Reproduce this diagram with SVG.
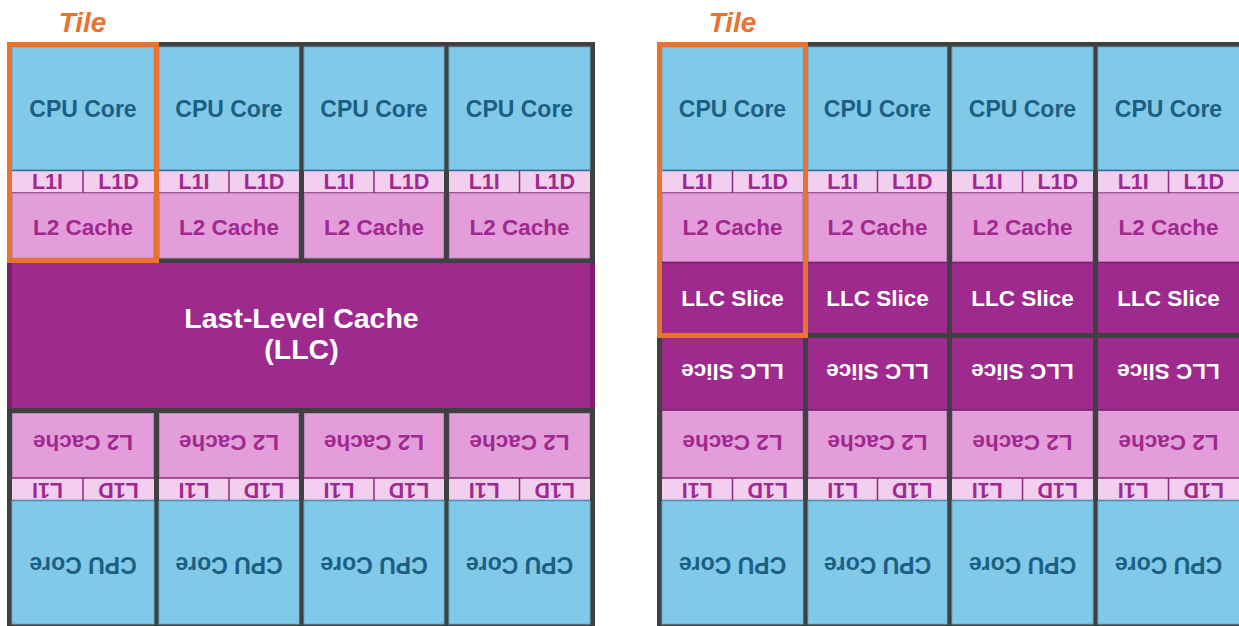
<svg xmlns="http://www.w3.org/2000/svg" width="1239" height="626" viewBox="0 0 1239 626">
<style>
.frame{fill:#404040}
.cpu{fill:#80C9E9;stroke:#6BA8C6;stroke-width:1}
.l1{fill:#F2CFEE}
.l2{fill:#E39DDB;stroke:#B98AB3;stroke-width:1}
.llc{fill:#9E2A8E}
.llcedge{fill:#7A1F6D}
.tl{stroke:#2E7396;stroke-width:1.5}
.pl{stroke:#8B2A7F;stroke-width:1.5}
.t{font-family:"Liberation Sans",Arial,sans-serif;font-weight:bold;text-anchor:middle}
.tc{fill:#1C5F82;font-size:23px}
.t1{fill:#A0298E;font-size:21.5px}
.t2{fill:#A0298E;font-size:22.5px}
.tw{fill:#FFFFFF;font-size:22.5px}
.tbig{fill:#FFFFFF;font-size:28.5px}
.tile{fill:none;stroke:#E8732F;stroke-width:5}
.tilelbl{fill:#E8732F;font-size:28px;font-style:italic}
</style>
<rect width="1239" height="626" fill="#FFFFFF"/>

<!-- ================= LEFT DIAGRAM ================= -->
<g id="left-frame"><rect class="frame" x="7" y="42" width="588" height="590"/></g>

<g id="L-top-1">
<rect class="cpu" x="12" y="47" width="142" height="123"/>
<rect class="l1" x="12" y="170" width="142" height="23"/>
<line class="tl" x1="12" y1="170.5" x2="154" y2="170.5"/>
<line class="pl" x1="12" y1="193" x2="154" y2="193"/>
<line class="pl" x1="83" y1="170" x2="83" y2="193"/>
<rect class="l2" x="12.5" y="193.5" width="141" height="64.5"/>
<text class="t tc" x="83" y="117">CPU Core</text>
<text class="t t1" x="47.5" y="189.3">L1I</text>
<text class="t t1" x="118.5" y="189.3">L1D</text>
<text class="t t2" x="83" y="235">L2 Cache</text>
</g>
<g id="L-top-2">
<rect class="cpu" x="159" y="47" width="140" height="123"/>
<rect class="l1" x="159" y="170" width="140" height="23"/>
<line class="tl" x1="159" y1="170.5" x2="299" y2="170.5"/>
<line class="pl" x1="159" y1="193" x2="299" y2="193"/>
<line class="pl" x1="229" y1="170" x2="229" y2="193"/>
<rect class="l2" x="159.5" y="193.5" width="139" height="64.5"/>
<text class="t tc" x="229" y="117">CPU Core</text>
<text class="t t1" x="194" y="189.3">L1I</text>
<text class="t t1" x="264" y="189.3">L1D</text>
<text class="t t2" x="229" y="235">L2 Cache</text>
</g>
<g id="L-top-3">
<rect class="cpu" x="304" y="47" width="140" height="123"/>
<rect class="l1" x="304" y="170" width="140" height="23"/>
<line class="tl" x1="304" y1="170.5" x2="444" y2="170.5"/>
<line class="pl" x1="304" y1="193" x2="444" y2="193"/>
<line class="pl" x1="374" y1="170" x2="374" y2="193"/>
<rect class="l2" x="304.5" y="193.5" width="139" height="64.5"/>
<text class="t tc" x="374" y="117">CPU Core</text>
<text class="t t1" x="339" y="189.3">L1I</text>
<text class="t t1" x="409" y="189.3">L1D</text>
<text class="t t2" x="374" y="235">L2 Cache</text>
</g>
<g id="L-top-4">
<rect class="cpu" x="449" y="47" width="141" height="123"/>
<rect class="l1" x="449" y="170" width="141" height="23"/>
<line class="tl" x1="449" y1="170.5" x2="590" y2="170.5"/>
<line class="pl" x1="449" y1="193" x2="590" y2="193"/>
<line class="pl" x1="519.5" y1="170" x2="519.5" y2="193"/>
<rect class="l2" x="449.5" y="193.5" width="140" height="64.5"/>
<text class="t tc" x="519.5" y="117">CPU Core</text>
<text class="t t1" x="484.25" y="189.3">L1I</text>
<text class="t t1" x="554.75" y="189.3">L1D</text>
<text class="t t2" x="519.5" y="235">L2 Cache</text>
</g>

<g id="LLC">
<rect class="llcedge" x="7" y="263" width="588" height="145"/>
<rect class="llc" x="12" y="263" width="578" height="145"/>
<text class="t tbig" x="301.5" y="328">Last-Level Cache</text>
<text class="t tbig" x="301.5" y="359">(LLC)</text>
</g>

<g id="L-bot-1">
<rect class="l2" x="12.5" y="413.5" width="141" height="64.5"/>
<rect class="l1" x="12" y="478" width="142" height="23"/>
<line class="pl" x1="12" y1="478" x2="154" y2="478"/>
<line class="tl" x1="12" y1="500.5" x2="154" y2="500.5"/>
<line class="pl" x1="83" y1="478" x2="83" y2="501"/>
<rect class="cpu" x="12" y="501" width="142" height="123"/>
<text class="t t2" x="83" y="451.3" transform="rotate(180 83 443.3)">L2 Cache</text>
<text class="t t1" x="47.5" y="498.2" transform="rotate(180 47.5 490.5)">L1I</text>
<text class="t t1" x="118.5" y="498.2" transform="rotate(180 118.5 490.5)">L1D</text>
<text class="t tc" x="83" y="573.3" transform="rotate(180 83 565)">CPU Core</text>
</g>
<g id="L-bot-2">
<rect class="l2" x="159.5" y="413.5" width="139" height="64.5"/>
<rect class="l1" x="159" y="478" width="140" height="23"/>
<line class="pl" x1="159" y1="478" x2="299" y2="478"/>
<line class="tl" x1="159" y1="500.5" x2="299" y2="500.5"/>
<line class="pl" x1="229" y1="478" x2="229" y2="501"/>
<rect class="cpu" x="159" y="501" width="140" height="123"/>
<text class="t t2" x="229" y="451.3" transform="rotate(180 229 443.3)">L2 Cache</text>
<text class="t t1" x="194" y="498.2" transform="rotate(180 194 490.5)">L1I</text>
<text class="t t1" x="264" y="498.2" transform="rotate(180 264 490.5)">L1D</text>
<text class="t tc" x="229" y="573.3" transform="rotate(180 229 565)">CPU Core</text>
</g>
<g id="L-bot-3">
<rect class="l2" x="304.5" y="413.5" width="139" height="64.5"/>
<rect class="l1" x="304" y="478" width="140" height="23"/>
<line class="pl" x1="304" y1="478" x2="444" y2="478"/>
<line class="tl" x1="304" y1="500.5" x2="444" y2="500.5"/>
<line class="pl" x1="374" y1="478" x2="374" y2="501"/>
<rect class="cpu" x="304" y="501" width="140" height="123"/>
<text class="t t2" x="374" y="451.3" transform="rotate(180 374 443.3)">L2 Cache</text>
<text class="t t1" x="339" y="498.2" transform="rotate(180 339 490.5)">L1I</text>
<text class="t t1" x="409" y="498.2" transform="rotate(180 409 490.5)">L1D</text>
<text class="t tc" x="374" y="573.3" transform="rotate(180 374 565)">CPU Core</text>
</g>
<g id="L-bot-4">
<rect class="l2" x="449.5" y="413.5" width="140" height="64.5"/>
<rect class="l1" x="449" y="478" width="141" height="23"/>
<line class="pl" x1="449" y1="478" x2="590" y2="478"/>
<line class="tl" x1="449" y1="500.5" x2="590" y2="500.5"/>
<line class="pl" x1="519.5" y1="478" x2="519.5" y2="501"/>
<rect class="cpu" x="449" y="501" width="141" height="123"/>
<text class="t t2" x="519.5" y="451.3" transform="rotate(180 519.5 443.3)">L2 Cache</text>
<text class="t t1" x="484.25" y="498.2" transform="rotate(180 484.25 490.5)">L1I</text>
<text class="t t1" x="554.75" y="498.2" transform="rotate(180 554.75 490.5)">L1D</text>
<text class="t tc" x="519.5" y="573.3" transform="rotate(180 519.5 565)">CPU Core</text>
</g>

<g id="L-tile-outline">
<rect class="tile" x="9.5" y="44.5" width="147" height="216"/>
<text class="t tilelbl" x="82.5" y="31.5">Tile</text>
</g>

<!-- ================= RIGHT DIAGRAM ================= -->
<g id="right-frame"><rect class="frame" x="657" y="42" width="600" height="590"/></g>

<g id="R-top-1">
<rect class="cpu" x="662" y="47" width="141" height="123"/>
<rect class="l1" x="662" y="170" width="141" height="23"/>
<line class="tl" x1="662" y1="170.5" x2="803" y2="170.5"/>
<line class="pl" x1="662" y1="193" x2="803" y2="193"/>
<line class="pl" x1="732.5" y1="170" x2="732.5" y2="193"/>
<rect class="l2" x="662.5" y="193.5" width="140" height="68.5"/>
<rect class="llc" x="662" y="262" width="141" height="71"/>
<line class="pl" x1="662" y1="262.5" x2="803" y2="262.5" style="stroke:#7A1F6D"/>
<text class="t tc" x="732.5" y="117">CPU Core</text>
<text class="t t1" x="697.25" y="189.3">L1I</text>
<text class="t t1" x="767.75" y="189.3">L1D</text>
<text class="t t2" x="732.5" y="235">L2 Cache</text>
<text class="t tw" x="732.5" y="306">LLC Slice</text>
</g>
<g id="R-top-2">
<rect class="cpu" x="808" y="47" width="139" height="123"/>
<rect class="l1" x="808" y="170" width="139" height="23"/>
<line class="tl" x1="808" y1="170.5" x2="947" y2="170.5"/>
<line class="pl" x1="808" y1="193" x2="947" y2="193"/>
<line class="pl" x1="877.5" y1="170" x2="877.5" y2="193"/>
<rect class="l2" x="808.5" y="193.5" width="138" height="68.5"/>
<rect class="llc" x="808" y="262" width="139" height="71"/>
<line class="pl" x1="808" y1="262.5" x2="947" y2="262.5" style="stroke:#7A1F6D"/>
<text class="t tc" x="877.5" y="117">CPU Core</text>
<text class="t t1" x="842.75" y="189.3">L1I</text>
<text class="t t1" x="912.25" y="189.3">L1D</text>
<text class="t t2" x="877.5" y="235">L2 Cache</text>
<text class="t tw" x="877.5" y="306">LLC Slice</text>
</g>
<g id="R-top-3">
<rect class="cpu" x="952" y="47" width="141" height="123"/>
<rect class="l1" x="952" y="170" width="141" height="23"/>
<line class="tl" x1="952" y1="170.5" x2="1093" y2="170.5"/>
<line class="pl" x1="952" y1="193" x2="1093" y2="193"/>
<line class="pl" x1="1022.5" y1="170" x2="1022.5" y2="193"/>
<rect class="l2" x="952.5" y="193.5" width="140" height="68.5"/>
<rect class="llc" x="952" y="262" width="141" height="71"/>
<line class="pl" x1="952" y1="262.5" x2="1093" y2="262.5" style="stroke:#7A1F6D"/>
<text class="t tc" x="1022.5" y="117">CPU Core</text>
<text class="t t1" x="987.25" y="189.3">L1I</text>
<text class="t t1" x="1057.75" y="189.3">L1D</text>
<text class="t t2" x="1022.5" y="235">L2 Cache</text>
<text class="t tw" x="1022.5" y="306">LLC Slice</text>
</g>
<g id="R-top-4">
<rect class="cpu" x="1098" y="47" width="145" height="123"/>
<rect class="l1" x="1098" y="170" width="145" height="23"/>
<line class="tl" x1="1098" y1="170.5" x2="1243" y2="170.5"/>
<line class="pl" x1="1098" y1="193" x2="1243" y2="193"/>
<line class="pl" x1="1168.5" y1="170" x2="1168.5" y2="193"/>
<rect class="l2" x="1098.5" y="193.5" width="144" height="68.5"/>
<rect class="llc" x="1098" y="262" width="145" height="71"/>
<line class="pl" x1="1098" y1="262.5" x2="1243" y2="262.5" style="stroke:#7A1F6D"/>
<text class="t tc" x="1168.5" y="117">CPU Core</text>
<text class="t t1" x="1133.25" y="189.3">L1I</text>
<text class="t t1" x="1203.75" y="189.3">L1D</text>
<text class="t t2" x="1168.5" y="235">L2 Cache</text>
<text class="t tw" x="1168.5" y="306">LLC Slice</text>
</g>

<g id="R-bot-1">
<rect class="llc" x="662" y="338" width="141" height="72"/>
<rect class="l2" x="662.5" y="410.5" width="140" height="67.5"/>
<line class="pl" x1="662" y1="410" x2="803" y2="410" style="stroke:#7A1F6D"/>
<rect class="l1" x="662" y="478" width="141" height="23"/>
<line class="pl" x1="662" y1="478" x2="803" y2="478"/>
<line class="tl" x1="662" y1="500.5" x2="803" y2="500.5"/>
<line class="pl" x1="732.5" y1="478" x2="732.5" y2="501"/>
<rect class="cpu" x="662" y="501" width="141" height="123"/>
<text class="t tw" x="732.5" y="380.6" transform="rotate(180 732.5 372.5)">LLC Slice</text>
<text class="t t2" x="732.5" y="451.3" transform="rotate(180 732.5 443.3)">L2 Cache</text>
<text class="t t1" x="697.25" y="498.2" transform="rotate(180 697.25 490.5)">L1I</text>
<text class="t t1" x="767.75" y="498.2" transform="rotate(180 767.75 490.5)">L1D</text>
<text class="t tc" x="732.5" y="573.3" transform="rotate(180 732.5 565)">CPU Core</text>
</g>
<g id="R-bot-2">
<rect class="llc" x="808" y="338" width="139" height="72"/>
<rect class="l2" x="808.5" y="410.5" width="138" height="67.5"/>
<line class="pl" x1="808" y1="410" x2="947" y2="410" style="stroke:#7A1F6D"/>
<rect class="l1" x="808" y="478" width="139" height="23"/>
<line class="pl" x1="808" y1="478" x2="947" y2="478"/>
<line class="tl" x1="808" y1="500.5" x2="947" y2="500.5"/>
<line class="pl" x1="877.5" y1="478" x2="877.5" y2="501"/>
<rect class="cpu" x="808" y="501" width="139" height="123"/>
<text class="t tw" x="877.5" y="380.6" transform="rotate(180 877.5 372.5)">LLC Slice</text>
<text class="t t2" x="877.5" y="451.3" transform="rotate(180 877.5 443.3)">L2 Cache</text>
<text class="t t1" x="842.75" y="498.2" transform="rotate(180 842.75 490.5)">L1I</text>
<text class="t t1" x="912.25" y="498.2" transform="rotate(180 912.25 490.5)">L1D</text>
<text class="t tc" x="877.5" y="573.3" transform="rotate(180 877.5 565)">CPU Core</text>
</g>
<g id="R-bot-3">
<rect class="llc" x="952" y="338" width="141" height="72"/>
<rect class="l2" x="952.5" y="410.5" width="140" height="67.5"/>
<line class="pl" x1="952" y1="410" x2="1093" y2="410" style="stroke:#7A1F6D"/>
<rect class="l1" x="952" y="478" width="141" height="23"/>
<line class="pl" x1="952" y1="478" x2="1093" y2="478"/>
<line class="tl" x1="952" y1="500.5" x2="1093" y2="500.5"/>
<line class="pl" x1="1022.5" y1="478" x2="1022.5" y2="501"/>
<rect class="cpu" x="952" y="501" width="141" height="123"/>
<text class="t tw" x="1022.5" y="380.6" transform="rotate(180 1022.5 372.5)">LLC Slice</text>
<text class="t t2" x="1022.5" y="451.3" transform="rotate(180 1022.5 443.3)">L2 Cache</text>
<text class="t t1" x="987.25" y="498.2" transform="rotate(180 987.25 490.5)">L1I</text>
<text class="t t1" x="1057.75" y="498.2" transform="rotate(180 1057.75 490.5)">L1D</text>
<text class="t tc" x="1022.5" y="573.3" transform="rotate(180 1022.5 565)">CPU Core</text>
</g>
<g id="R-bot-4">
<rect class="llc" x="1098" y="338" width="145" height="72"/>
<rect class="l2" x="1098.5" y="410.5" width="144" height="67.5"/>
<line class="pl" x1="1098" y1="410" x2="1243" y2="410" style="stroke:#7A1F6D"/>
<rect class="l1" x="1098" y="478" width="145" height="23"/>
<line class="pl" x1="1098" y1="478" x2="1243" y2="478"/>
<line class="tl" x1="1098" y1="500.5" x2="1243" y2="500.5"/>
<line class="pl" x1="1168.5" y1="478" x2="1168.5" y2="501"/>
<rect class="cpu" x="1098" y="501" width="145" height="123"/>
<text class="t tw" x="1168.5" y="380.6" transform="rotate(180 1168.5 372.5)">LLC Slice</text>
<text class="t t2" x="1168.5" y="451.3" transform="rotate(180 1168.5 443.3)">L2 Cache</text>
<text class="t t1" x="1133.25" y="498.2" transform="rotate(180 1133.25 490.5)">L1I</text>
<text class="t t1" x="1203.75" y="498.2" transform="rotate(180 1203.75 490.5)">L1D</text>
<text class="t tc" x="1168.5" y="573.3" transform="rotate(180 1168.5 565)">CPU Core</text>
</g>

<g id="R-tile-outline">
<rect class="tile" x="659.5" y="44.5" width="146" height="291"/>
<text class="t tilelbl" x="732.5" y="31.5">Tile</text>
</g>

<g id="connectors"></g>
</svg>
